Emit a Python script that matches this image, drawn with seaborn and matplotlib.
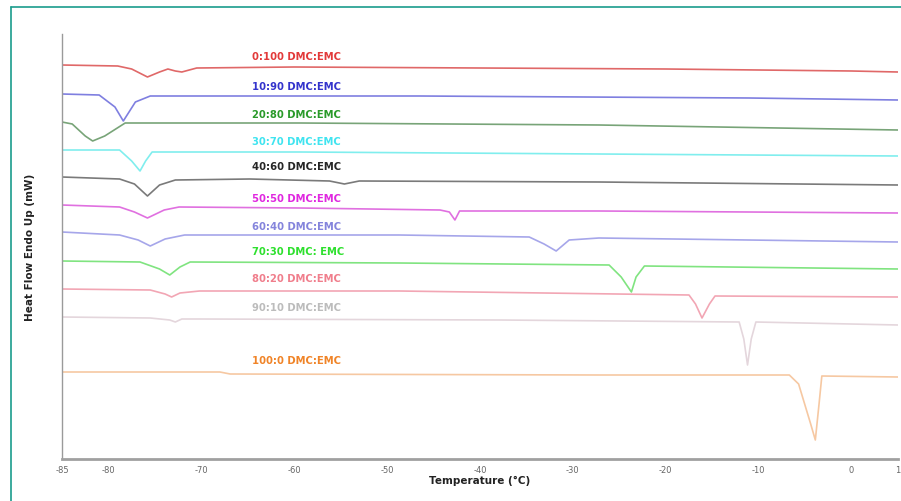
import numpy as np
import pandas as pd
import seaborn as sns
import matplotlib.pyplot as plt
from matplotlib.lines import Line2D

# DSC traces (temperature in degC, heat flow in arbitrary mW with offsets)
labels = ["0:100 DMC:EMC", "10:90 DMC:EMC", "20:80 DMC:EMC", "30:70 DMC:EMC",
          "40:60 DMC:EMC", "50:50 DMC:EMC", "60:40 DMC:EMC", "70:30 DMC: EMC",
          "80:20 DMC:EMC", "90:10 DMC:EMC", "100:0 DMC:EMC"]

t_0_100 = [-85, -79, -77.5, -75.8, -74.5, -73.6, -72.8, -72.1, -70.5, -60, -40, -20, 0, 5]
hf_0_100 = [19.70, 19.65, 19.50, 19.10, 19.35, 19.50, 19.40, 19.35, 19.55, 19.60, 19.55, 19.50, 19.40, 19.35]

t_10_90 = [-85, -81, -79.3, -78.4, -77.1, -75.5, -70, -46.5, -11, 5]
hf_10_90 = [18.25, 18.20, 17.60, 16.90, 17.85, 18.15, 18.15, 18.15, 18.05, 17.95]

t_20_80 = [-85, -83.9, -82.5, -81.7, -80.4, -78.2, -59.4, -27.2, 5]
hf_20_80 = [16.85, 16.75, 16.15, 15.90, 16.15, 16.80, 16.80, 16.70, 16.45]

t_30_70 = [-85, -78.8, -77.5, -76.6, -76.0, -75.3, -59.4, -27.2, 5]
hf_30_70 = [15.45, 15.45, 14.90, 14.40, 14.90, 15.35, 15.35, 15.25, 15.15]

t_40_60 = [-85, -78.8, -77.2, -75.8, -74.5, -72.8, -64.8, -56.2, -54.6, -53.0, -27.2, 5]
hf_40_60 = [14.10, 14.00, 13.75, 13.15, 13.70, 13.95, 14.00, 13.90, 13.75, 13.90, 13.85, 13.70]

t_50_50 = [-85, -78.8, -77.2, -75.8, -74.0, -72.4, -59.4, -44.3, -43.3, -42.7, -42.2, -27.2, 5]
hf_50_50 = [12.70, 12.60, 12.35, 12.05, 12.45, 12.60, 12.55, 12.45, 12.35, 11.95, 12.40, 12.40, 12.30]

t_60_40 = [-85, -78.8, -76.8, -75.5, -73.9, -71.8, -48.7, -34.7, -33.1, -31.8, -30.4, -27.2, 5]
hf_60_40 = [11.35, 11.20, 10.95, 10.65, 11.00, 11.20, 11.20, 11.10, 10.75, 10.40, 10.95, 11.05, 10.85]

t_70_30 = [-85, -76.6, -74.5, -73.4, -72.3, -71.2, -48.7, -26.1, -24.8, -23.7, -23.2, -22.3, 5]
hf_70_30 = [9.90, 9.85, 9.50, 9.20, 9.60, 9.85, 9.80, 9.70, 9.10, 8.35, 9.10, 9.65, 9.50]

t_80_20 = [-85, -75.5, -73.9, -73.2, -72.3, -70.2, -48.7, -17.5, -16.8, -16.1, -15.3, -14.7, 5]
hf_80_20 = [8.50, 8.45, 8.25, 8.10, 8.30, 8.40, 8.40, 8.20, 7.75, 7.05, 7.75, 8.15, 8.10]

t_90_10 = [-85, -75.5, -73.4, -72.8, -72.1, -70.2, -37.9, -12.1, -11.6, -11.2, -10.8, -10.3, 5]
hf_90_10 = [7.10, 7.05, 6.95, 6.85, 7.00, 7.00, 6.95, 6.85, 6.00, 4.70, 6.00, 6.85, 6.70]

t_100_0 = [-85, -68.0, -66.9, -27.2, -6.7, -5.7, -4.4, -3.9, -3.5, -3.2, 5]
hf_100_0 = [4.35, 4.35, 4.25, 4.20, 4.20, 3.75, 1.75, 0.95, 2.75, 4.15, 4.10]

temps = [t_0_100, t_10_90, t_20_80, t_30_70, t_40_60, t_50_50,
         t_60_40, t_70_30, t_80_20, t_90_10, t_100_0]
flows = [hf_0_100, hf_10_90, hf_20_80, hf_30_70, hf_40_60, hf_50_50,
         hf_60_40, hf_70_30, hf_80_20, hf_90_10, hf_100_0]

# label anchor heights (same units as heat flow)
label_y = [20.15, 18.65, 17.25, 15.90, 14.65, 13.05, 11.65, 10.40, 9.05, 7.60, 4.95]
label_x = -64.5

line_colors = ["#e06868", "#7f7fe0", "#78a478", "#80eeee", "#7a7a7a", "#e070e0",
               "#a6a6ea", "#80e480", "#f2a6b4", "#e4d6dc", "#f6c8a2"]
text_colors = ["#e23a3a", "#3434cc", "#2a9a2a", "#40e4f0", "#262626", "#e028e0",
               "#8484dc", "#2ee02e", "#f07e8c", "#bcbcbc", "#f08428"]

sns.set_theme(style="white")
plt.rcParams["font.family"] = ["DejaVu Sans"]

fig = plt.figure(figsize=(9.01, 5.02), dpi=100)
ax = fig.add_axes([62 / 901, 42 / 502, 836 / 901, 425 / 502])

for t, hf, c in zip(temps, flows, line_colors):
    df = pd.DataFrame({"Temperature": t, "HeatFlow": hf})
    sns.lineplot(data=df, x="Temperature", y="HeatFlow", color=c, lw=1.2,
                 sort=False, estimator=None, ax=ax)

for lab, y, c in zip(labels, label_y, text_colors):
    ax.text(label_x, y, lab, color=c, fontsize=7.2, fontweight="bold",
            ha="left", va="center")

ax.set_xlim(-85, 5)
ax.set_ylim(0, 21.25)
ax.set_xticks([-85, -80, -70, -60, -50, -40, -30, -20, -10, 0, 5])
ax.set_xticklabels(["-85", "-80", "-70", "-60", "-50", "-40", "-30", "-20", "-10", "0", "1"])
ax.set_yticks(np.arange(0.1, 21, 1.4))
ax.set_yticklabels([])
ax.tick_params(axis="x", length=0, pad=4, labelsize=6, labelcolor="#666666")
ax.tick_params(axis="y", direction="in", length=3, color="#aaaaaa", width=0.8)

ax.set_xlabel("Temperature (°C)", fontsize=7.5, fontweight="bold", color="#222222", labelpad=1)
ax.set_ylabel("Heat Flow Endo Up (mW)", fontsize=7.5, fontweight="bold", color="#222222", labelpad=16)

sns.despine(ax=ax, top=True, right=True)
ax.spines["left"].set_color("#9a9a9a")
ax.spines["left"].set_linewidth(1.0)
ax.spines["bottom"].set_color("#a0a0a0")
ax.spines["bottom"].set_linewidth(2.0)

# teal frame around the figure panel
fig.add_artist(Line2D([11 / 901, 11 / 901], [0, 494 / 502], color="#1a9c8c", lw=1.2,
                      transform=fig.transFigure))
fig.add_artist(Line2D([11 / 901, 1], [494 / 502, 494 / 502], color="#1a9c8c", lw=1.2,
                      transform=fig.transFigure))

fig.savefig("out.png", dpi=100)
